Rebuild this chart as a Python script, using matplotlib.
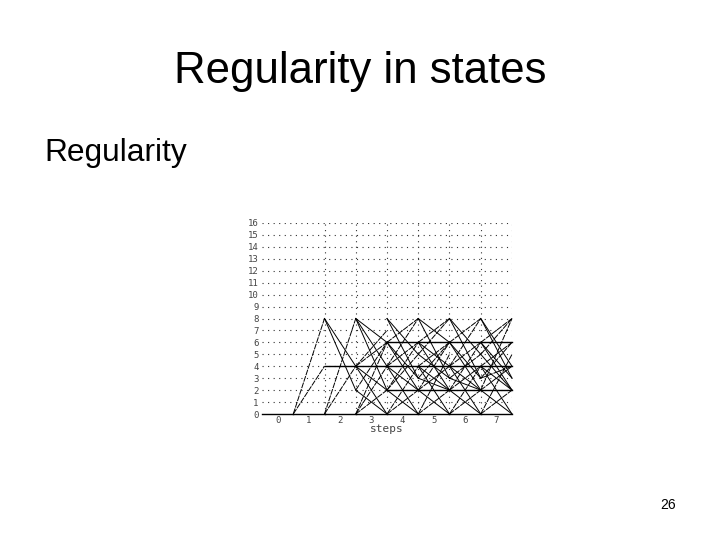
import matplotlib
matplotlib.use("Agg")
import matplotlib.pyplot as plt

plt.rcParams['font.family'] = ['Liberation Sans', 'DejaVu Sans']

title = "Regularity in states"
body = "Regularity"
page = "26"
xlabel = "steps"
x_ticks = [0, 1, 2, 3, 4, 5, 6, 7]
y_ticks = list(range(17))

# (from state, to state) between the step lines
edges_1 = [(0, 8), (0, 4), (0, 0)]
edges_2 = [(8, 4), (8, 2), (4, 4), (0, 8), (0, 4), (0, 0)]
edges_3 = [(8, 6), (8, 4), (8, 2), (4, 7), (4, 6), (4, 4), (4, 2), (4, 0), (2, 6), (2, 0),
           (0, 6), (0, 4), (0, 2), (0, 0)]
edges_4 = [(8, 5), (8, 3), (6, 8), (6, 6), (6, 3), (6, 2), (4, 8), (4, 6), (4, 4), (4, 2), (4, 0),
           (2, 6), (2, 5), (2, 2), (2, 0), (0, 4), (0, 2), (0, 0)]
edges_5 = [(8, 6), (8, 3), (6, 8), (6, 6), (6, 4), (6, 2), (5, 8), (5, 3), (4, 6), (4, 4), (4, 2), (4, 0),
           (3, 6), (3, 2), (2, 6), (2, 4), (2, 2), (2, 0), (0, 5), (0, 2), (0, 0)]
edges_6 = [(8, 5), (8, 3), (6, 8), (6, 6), (6, 3), (6, 2), (4, 8), (4, 6), (4, 4), (4, 2), (4, 0),
           (3, 5), (3, 2), (2, 6), (2, 4), (2, 2), (2, 0), (0, 4), (0, 2), (0, 0)]
edges_7 = [(8, 4), (8, 3), (6, 8), (6, 6), (6, 3), (6, 2), (5, 8), (5, 2), (4, 6), (4, 4), (4, 2), (4, 0),
           (3, 6), (3, 4), (2, 8), (2, 4), (2, 2), (2, 0), (0, 5), (0, 2), (0, 0)]
all_edges = [edges_1, edges_2, edges_3, edges_4, edges_5, edges_6, edges_7]

W, H = 720, 540
fig = plt.figure(figsize=(W / 100, H / 100), dpi=100, facecolor="white")

fig.text(360 / W, 1 - 71 / H, title, fontsize=31.5, ha="center", va="center")
fig.text(44 / W, 1 - 153 / H, body, fontsize=22.9, ha="left", va="center")
fig.text(668 / W, 1 - 505 / H, page, fontsize=10, ha="center", va="center")

# plot area in pixels: x 262-512, y 223-414
ax = fig.add_axes([262 / W, 1 - 414 / H, 250 / W, 191 / H])
ax.set_xlim(0, 8)
ax.set_ylim(0, 16)
for s in ax.spines.values():
    s.set_visible(False)

for y in y_ticks[1:]:
    ax.axhline(y, color="#333333", lw=0.8, ls=(0, (1, 4)), zorder=1)
for x in range(2, 9):
    ax.axvline(x, color="#333333", lw=0.8, ls=(0, (1, 4)), zorder=1)

for i, edges in enumerate(all_edges):
    x0 = i + 1
    for a, b in edges:
        if a == b:
            ls = "-"
            lw = 1.0
        elif b > a:
            ls = (0, (6, 1))
            lw = 0.7
        else:
            ls = "-"
            lw = 0.7
        ax.plot([x0, x0 + 1], [a, b], color="black", lw=lw, ls=ls, clip_on=False, zorder=2)
ax.plot([0, 1], [0, 0], color="black", lw=1.0, clip_on=False, zorder=2)

ax.set_xticks([t + 0.5 for t in x_ticks])
ax.set_xticklabels([str(t) for t in x_ticks], family="DejaVu Sans Mono", fontsize=6.5, color="#444444")
ax.set_yticks(y_ticks)
ax.set_yticklabels([str(t) for t in y_ticks], family="DejaVu Sans Mono", fontsize=6.5, color="#444444")
ax.tick_params(axis="x", length=0, pad=1.5)
ax.tick_params(axis="y", length=0, pad=2.5)
ax.set_xlabel(xlabel, family="DejaVu Sans Mono", fontsize=8, color="#444444", labelpad=-1)

fig.savefig("out.png", dpi=100)
